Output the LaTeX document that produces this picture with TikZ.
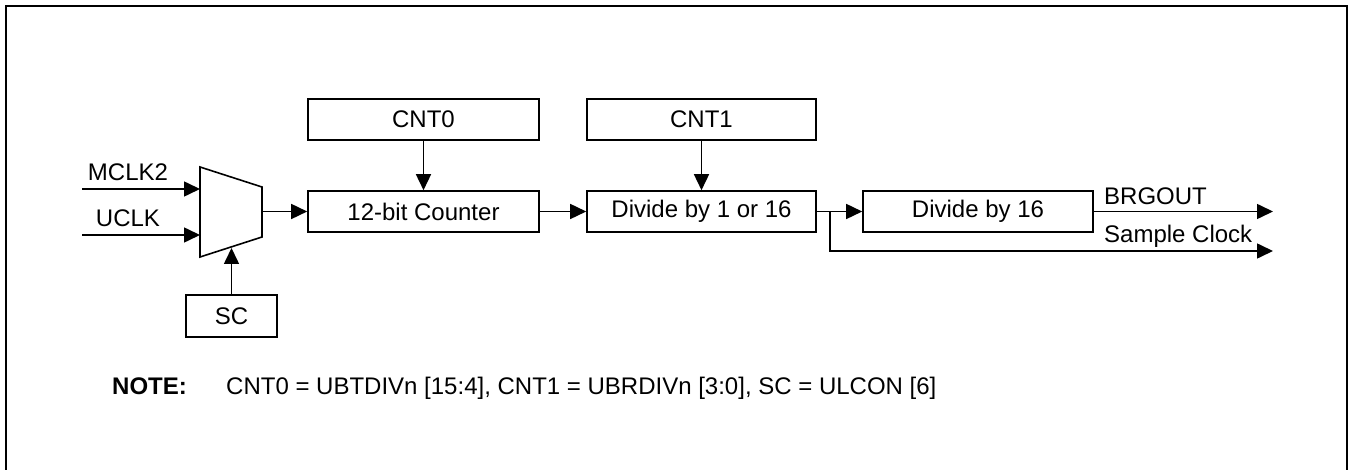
\documentclass[tikz,border=0pt]{standalone}
\usepackage{fontspec}
\setmainfont{Liberation Sans}
\usetikzlibrary{arrows.meta}
\tikzset{
  blk/.style={draw, line width=1.6pt, inner sep=0pt, font=\fontsize{24}{28}\selectfont},
  arr/.style={line width=1.6pt, -{Triangle[length=16pt,width=15pt]}},
  wire/.style={line width=1.6pt},
  lbl/.style={inner sep=0pt, font=\fontsize{24}{28}\selectfont},
}
\begin{document}
\begin{tikzpicture}[x=1pt,y=-1pt]
\useasboundingbox (0,0) rectangle (1353,470);
% frame
\draw[line width=2.6pt] (6,471) -- (6,6) -- (1347,6) -- (1347,471);
% boxes
\node[blk, minimum width=231pt, minimum height=41pt] (cnt0) at (423.5,119.5) {CNT0};
\node[blk, minimum width=229pt, minimum height=41pt] (cnt1) at (701.5,119.5) {CNT1};
\node[blk, minimum width=231pt, minimum height=41pt] (ctr) at (423.5,211.5) {12-bit Counter};
\node[blk, minimum width=229pt, minimum height=41pt] (div) at (701.5,211.5) {Divide by 1 or 16};
\node[blk, minimum width=230pt, minimum height=41pt] (div16) at (978,211.5) {Divide by 16};
\node[blk, minimum width=91pt, minimum height=42pt] (sc) at (231.5,316) {SC};
% mux
\draw[wire, line join=miter] (200,167) -- (262,187) -- (262,237) -- (200,257) -- cycle;
\coordinate (mclkS) at (82,189);
\coordinate (mclkE) at (200,189);
\coordinate (uclkS) at (82,235);
\coordinate (uclkE) at (200,235);
\coordinate (muxout) at (262,211.5);
\coordinate (muxsel) at (231.5,248);
\draw[arr] (mclkS) -- (mclkE);
\draw[arr] (uclkS) -- (uclkE);
\draw[arr] (muxout) -- (ctr.west);
\draw[arr] (sc.north) -- (muxsel);
\node[lbl, anchor=base] (lmclk) at (128,181) {MCLK2};
\node[lbl, anchor=base] (luclk) at (128,227) {UCLK};
% connections
\draw[arr] (cnt0.south) -- (ctr.north);
\draw[arr] (cnt1.south) -- (div.north);
\draw[arr] (ctr.east) -- (div.west);
\draw[arr] (div.east) -- (div16.west);
\coordinate (br) at (830,211.5);
\coordinate (brgE) at (1273,211.5);
\coordinate (sclkE) at (1273,251);
\draw[arr] (div16.east) -- (brgE);
\draw[arr] (br) |- (sclkE);
\node[lbl, anchor=base west] (lbrg) at (1104,205) {BRGOUT};
\node[lbl, anchor=base west] (lsclk) at (1104,243) {Sample Clock};
% note
\node[lbl, anchor=base west] (note) at (112,395) {\bfseries NOTE:};
\node[lbl, anchor=base west] (notetxt) at (226,395) {CNT0 = UBTDIVn [15:4], CNT1 = UBRDIVn [3:0], SC = ULCON [6]};
\end{tikzpicture}
\end{document}
